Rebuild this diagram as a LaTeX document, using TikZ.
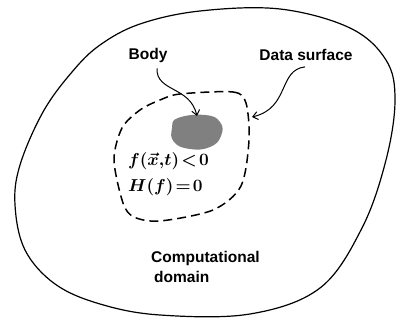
\documentclass[tikz,border=0pt]{standalone}
\usepackage{amsmath}
\usepackage{fontspec}
\setmainfont{Liberation Serif}
\setsansfont{Liberation Sans}
\usetikzlibrary{arrows.meta}
\begin{document}
\begin{tikzpicture}[x=1pt,y=-1pt,
  lbl/.style={font=\sffamily\bfseries\fontsize{15.5}{18}\selectfont, inner sep=0pt},
  mth/.style={font=\fontsize{16}{18}\selectfont\boldmath, inner sep=0pt, anchor=west},
  pointer/.style={line width=1pt, -{Straight Barb[length=5pt,width=8pt]}}]
\useasboundingbox (0,0) rectangle (396,320);
% outer computational domain
\draw[line width=1.2pt] plot[smooth cycle, tension=0.6] coordinates {
  (100,45) (140,24) (200,11) (280,9) (350,28) (386,60) (395,100)
  (386,160) (362,228) (320,288) (250,314) (160,315) (100,304)
  (55,284) (25,250) (15,205) (20,165) (43,112) (72,72)};
% data surface (dashed)
\draw[line width=1.5pt, dash pattern=on 9pt off 5pt] plot[smooth cycle, tension=0.5] coordinates {
  (180,94) (233,92) (246,103) (249,140) (241,186) (213,210)
  (160,221) (134,217) (123,203) (114,160) (122,128) (140,110) (160,100)};
% body
\fill[fill=gray] plot[smooth cycle, tension=0.8] coordinates {
  (178,118) (205,115) (220,122) (221,136) (210,147) (190,149) (174,142) (172,128)};
% labels
\node[lbl] (body) at (148,55) {Body};
\node[lbl] (data) at (306,55) {Data surface};
\node[lbl, anchor=west] (comp) at (151,258) {Computational};
\node[lbl, anchor=west] (dom) at (154,277) {domain};
\node[mth] (eq1) at (128,161) {$f(\vec{x}{,}t)\!<\!0$};
\node[mth] (eq2) at (128,187) {$H(f)\!=\!0$};
\coordinate (bodytip) at (197,116);
\coordinate (datatip) at (252,117);
\draw[pointer] (body.south) ++(9,6) .. controls (156,92) and (190,86) .. (bodytip);
\draw[pointer] (data.south) ++(-1,6) .. controls (278,70) and (290,108) .. (datatip);
\end{tikzpicture}
\end{document}
